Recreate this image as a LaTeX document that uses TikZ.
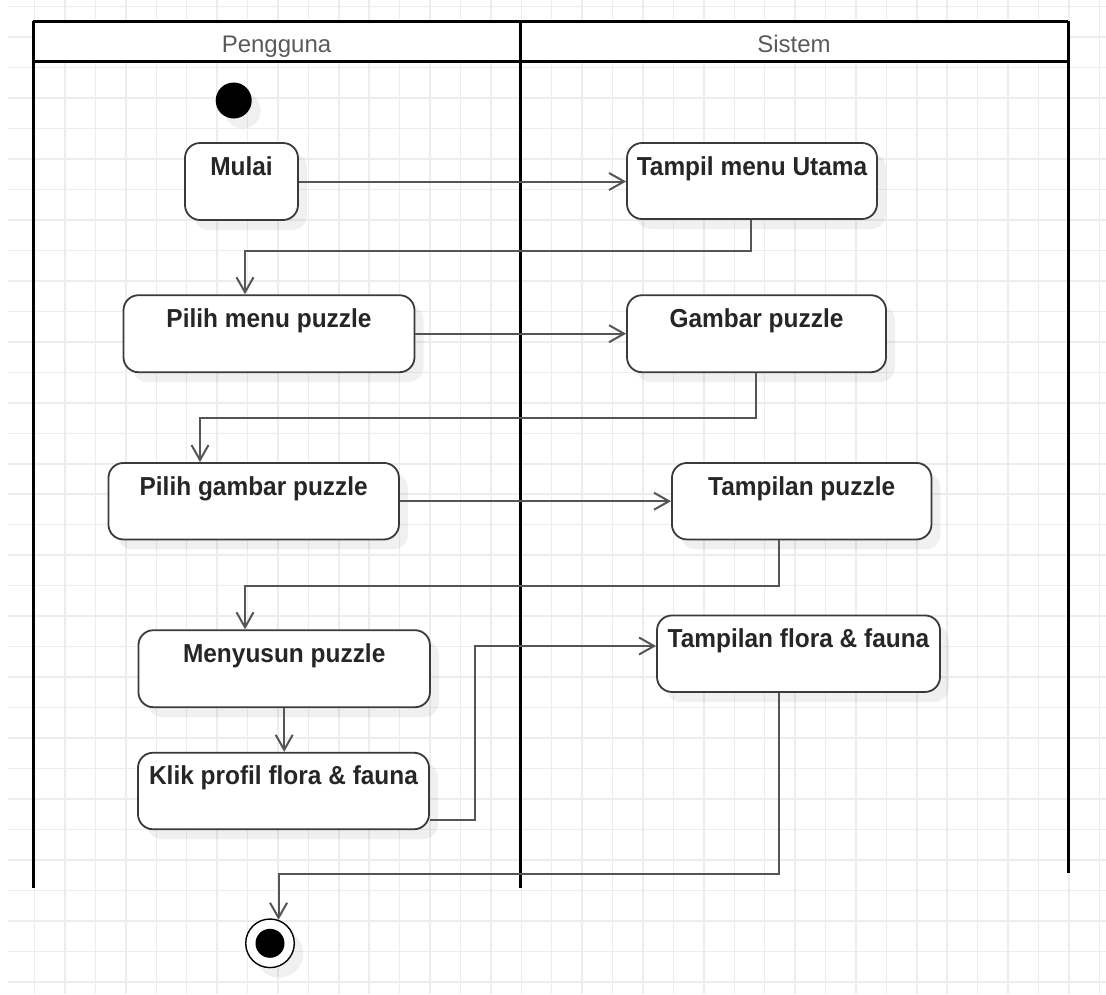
\documentclass[tikz,border=0pt]{standalone}
\usepackage{fontspec}
\setmainfont{Liberation Sans}
\newfontfamily\actfont[FakeStretch=0.94]{Liberation Sans}
\usetikzlibrary{arrows.meta,shadows,calc}
\definecolor{gridc}{HTML}{EDEDED}
\definecolor{edgec}{HTML}{555555}
\definecolor{boxc}{HTML}{3A3A3A}
\definecolor{txtc}{HTML}{262626}
\definecolor{headc}{HTML}{5A5A5A}

\begin{document}
\begin{tikzpicture}[x=1pt,y=-1pt,
  gridline/.style={draw=gridc, line width=1.5pt},
  lane/.style={draw=black, line width=3pt},
  softshadow/.style={drop shadow={shadow xshift=9pt, shadow yshift=-10pt, opacity=0.06, fill=black}},
  act/.style={draw=boxc, line width=1.8pt, fill=white, rounded corners=15pt,
    inner sep=0pt, softshadow},
  acttext/.style={font=\actfont\bfseries\fontsize{26}{30}\selectfont, text=txtc,
    anchor=base, inner sep=0pt, yshift=-33pt},
  flow/.style={draw=edgec, line width=2pt, -{Straight Barb[length=15pt,width=17pt]}},
  head/.style={font=\fontsize{24}{28}\selectfont, text=headc, anchor=base, inner sep=0pt}
]
% page and background grid
\useasboundingbox (0,0) rectangle (1106,994);
\fill[white] (0,0) rectangle (1106,994);
\foreach \i in {0,...,35} \draw[gridline] ({34.6+30.42*\i},0) -- ++(0,994);
\foreach \j in {0,...,32} \draw[gridline] (8,{6.7+30.47*\j}) -- (1106,{6.7+30.47*\j});

% swimlanes
\fill[white] (33,21) rectangle (1068,61);
\draw[lane] (33,21) -- (1068,21);
\draw[lane] (33,61) -- (1068,61);
\draw[lane] (33,21) -- (33,888);
\draw[lane] (520,21) -- (520,888);
\draw[lane] (1068,21) -- (1068,873);
\node[head] (lane1) at (276.5,52.5) {Pengguna};
\node[head] (lane2) at (794,52.5) {Sistem};

% initial and final states
\node[circle, fill=black, minimum size=36pt, inner sep=0pt, softshadow] (start) at (233.7,100.5) {};
\node[circle, draw=black, line width=1.4pt, fill=white, minimum size=48.6pt, inner sep=0pt, softshadow,
  path picture={\fill[black] (path picture bounding box.center) circle (14.5pt);}] (end) at (270,943.3) {};

% activities
\node[act, minimum width=113pt, minimum height=77pt, label={[acttext]north:Mulai}] (mulai) at (241.5,181.5) {};
\node[act, minimum width=250pt, minimum height=76pt, label={[acttext]north:Tampil menu Utama}] (tmu) at (752,181) {};
\node[act, minimum width=291pt, minimum height=77pt, label={[acttext]north:Pilih menu puzzle}] (pmp) at (269,333.7) {};
\node[act, minimum width=259pt, minimum height=77pt, label={[acttext]north:Gambar puzzle}] (gp) at (756.5,333.7) {};
\node[act, minimum width=290.5pt, minimum height=76.5pt, label={[acttext]north:Pilih gambar puzzle}] (pgp) at (253.7,501.2) {};
\node[act, minimum width=259.5pt, minimum height=76.5pt, label={[acttext]north:Tampilan puzzle}] (tp) at (801.7,501.2) {};
\node[act, minimum width=291.5pt, minimum height=77pt, label={[acttext]north:Menyusun puzzle}] (ms) at (284.2,668.7) {};
\node[act, minimum width=291pt, minimum height=76.5pt, label={[acttext]north:Klik profil flora \& fauna}] (klik) at (283.5,791) {};
\node[act, minimum width=283pt, minimum height=76.5pt, label={[acttext]north:Tampilan flora \& fauna}] (flora) at (798.5,653.7) {};

% control flow
\draw[flow] (mulai.east) -- (mulai.east -| tmu.west);
\draw[flow] ([xshift=-1.3pt]tmu.south) -- ++(0,31) -| ([xshift=-24pt]pmp.north);
\draw[flow] (pmp.east) -- (pmp.east -| gp.west);
\draw[flow] ([xshift=-0.5pt]gp.south) -- ++(0,44.5) -| ([xshift=-53.7pt]pgp.north);
\draw[flow] (pgp.east) -- (pgp.east -| tp.west);
\draw[flow] ([xshift=-22.7pt]tp.south) -- ++(0,45.5) -| ([xshift=-39.2pt]ms.north);
\draw[flow] (ms.south) -- (ms.south |- klik.north);
\draw[flow] ([yshift=-29pt]klik.east) -- ++(45,0) |- ([yshift=7.7pt]flora.west);
\draw[flow] ([xshift=-19.5pt]flora.south) -- ++(0,181.5) -| (end.70);
\end{tikzpicture}
\end{document}
